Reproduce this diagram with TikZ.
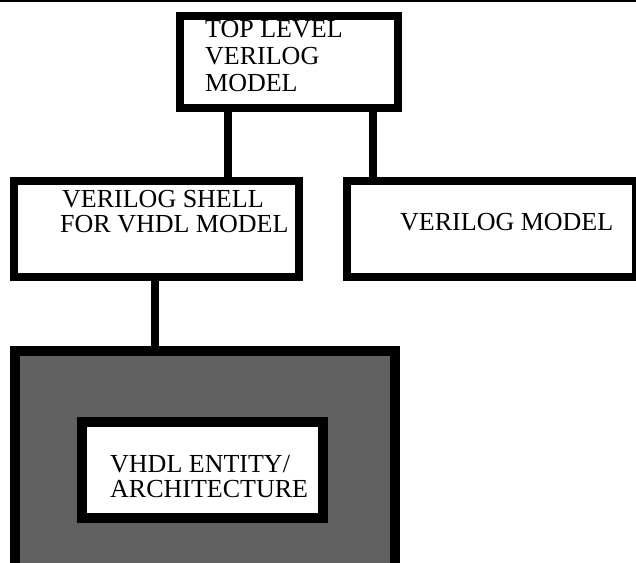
\documentclass[tikz,border=0pt]{standalone}
\usepackage{fontspec}
\setmainfont{Liberation Serif}

\begin{document}
\begin{tikzpicture}[x=1pt,y=-1pt,
    blk/.style={draw,line width=8pt,fill=white,inner sep=0pt},
    txt/.style={anchor=base west,inner sep=0pt,align=left,font=\fontsize{26}{25}\selectfont},
    wire/.style={line width=8pt}]
  \useasboundingbox (0,0) rectangle (636,562);
  \clip (0,0) rectangle (636,562);
  \draw[line width=2.5pt] (0,1.2) -- (636,1.2);
  \node[blk,minimum width=218pt,minimum height=92pt] (top) at (289,62) {};
  \node[blk,minimum width=285pt,minimum height=96pt] (shell) at (156.5,229) {};
  \node[blk,minimum width=289pt,minimum height=96pt] (vmod) at (491.5,229) {};
  \node[blk,line width=10pt,fill=black!62,minimum width=380pt,minimum height=249pt] (wrap) at (205,475.5) {};
  \node[blk,line width=10pt,minimum width=241pt,minimum height=96pt] (vhdl) at (202.5,470) {};
  \draw[wire] ([xshift=-61pt]top.south) -- ([xshift=-61pt]top.south |- shell.north);
  \draw[wire] ([xshift=83.5pt]top.south) -- ([xshift=83.5pt]top.south |- vmod.north);
  \draw[wire] ([xshift=-1.5pt]shell.south) -- ([xshift=-1.5pt]shell.south |- wrap.north);
  \node[txt,font=\fontsize{26}{27}\selectfont] (toptxt) at (205,91) {TOP LEVEL\\VERILOG\\MODEL};
  \node[txt] (shelltxt) at (60,232) {\hspace{2pt}VERILOG SHELL\\FOR VHDL MODEL};
  \node[txt] (vmodtxt) at (400,230) {VERILOG MODEL};
  \node[txt] (vhdltxt) at (110,497) {VHDL ENTITY/\\ARCHITECTURE};
\end{tikzpicture}
\end{document}
